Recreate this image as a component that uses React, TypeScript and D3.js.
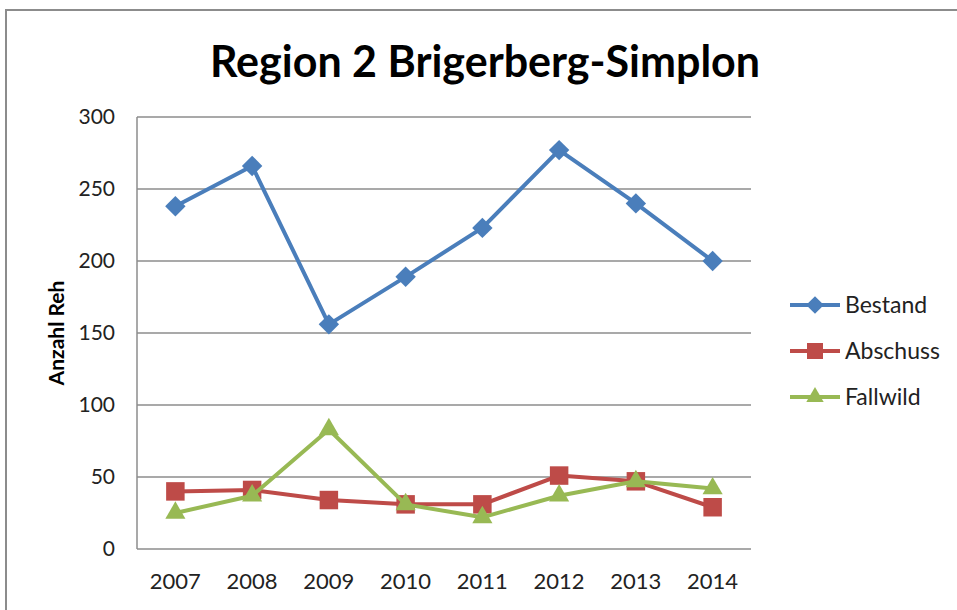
import React, { useEffect, useRef } from 'react';
import * as d3 from 'd3';

const years = ['2007', '2008', '2009', '2010', '2011', '2012', '2013', '2014'];
const bestand = [238, 266, 156, 189, 223, 277, 240, 200];
const abschuss = [40, 41, 34, 31, 31, 51, 47, 29];
const fallwild = [25, 37, 83, 31, 22, 37, 47, 42];
const yTicks = [0, 50, 100, 150, 200, 250, 300];

const series = [
    { name: 'Bestand', values: bestand, color: '#4A7EBB', marker: 'diamond' },
    { name: 'Abschuss', values: abschuss, color: '#BE4B48', marker: 'square' },
    { name: 'Fallwild', values: fallwild, color: '#98B954', marker: 'triangle' },
];

const font = 'Lato, "Open Sans", sans-serif';

const App = () => {
    const svgRef = useRef<SVGSVGElement>(null);
    const width = 957;
    const height = 610;

    useEffect(() => {
        const svg = d3.select(svgRef.current);
        svg.selectAll('*').remove();

        const plot = { left: 137, top: 117, right: 751, bottom: 549 };

        // outer chart frame
        svg.append('rect')
            .attr('x', 6)
            .attr('y', 10)
            .attr('width', 980)
            .attr('height', 640)
            .attr('fill', 'white')
            .attr('stroke', '#8c8c8c')
            .attr('stroke-width', 2);

        const xScale = d3.scaleBand()
            .domain(years)
            .range([plot.left, plot.right]);

        const yScale = d3.scaleLinear()
            .domain([0, 300])
            .range([plot.bottom, plot.top]);

        // gridlines
        svg.append('g')
            .selectAll('line')
            .data(yTicks.filter(d => d > 0))
            .enter()
            .append('line')
            .attr('x1', plot.left)
            .attr('x2', plot.right)
            .attr('y1', d => yScale(d))
            .attr('y2', d => yScale(d))
            .attr('stroke', '#8c8c8c')
            .attr('stroke-width', 1.5);

        // axis lines
        svg.append('line')
            .attr('x1', plot.left).attr('x2', plot.left)
            .attr('y1', plot.top).attr('y2', plot.bottom)
            .attr('stroke', '#8c8c8c').attr('stroke-width', 1.5);
        svg.append('line')
            .attr('x1', plot.left).attr('x2', plot.right)
            .attr('y1', plot.bottom).attr('y2', plot.bottom)
            .attr('stroke', '#8c8c8c').attr('stroke-width', 1.5);

        // y tick labels
        svg.append('g')
            .selectAll('text')
            .data(yTicks)
            .enter()
            .append('text')
            .attr('x', 115)
            .attr('y', d => yScale(d))
            .attr('dy', '0.35em')
            .attr('text-anchor', 'end')
            .style('font-family', font)
            .style('font-size', '21px')
            .style('fill', '#222')
            .text(d => d);

        // x tick labels
        svg.append('g')
            .selectAll('text')
            .data(years)
            .enter()
            .append('text')
            .attr('x', d => xScale(d)! + xScale.bandwidth() / 2)
            .attr('y', 589)
            .attr('text-anchor', 'middle')
            .style('font-family', font)
            .style('font-size', '22px')
            .style('fill', '#222')
            .text(d => d);

        // y axis title
        svg.append('text')
            .attr('transform', 'rotate(-90)')
            .attr('x', -333)
            .attr('y', 64)
            .attr('text-anchor', 'middle')
            .style('font-family', font)
            .style('font-size', '21px')
            .style('font-weight', 'bold')
            .text('Anzahl Reh');

        // title
        svg.append('text')
            .attr('x', 485)
            .attr('y', 77)
            .attr('text-anchor', 'middle')
            .style('font-family', font)
            .style('font-size', '43px')
            .style('font-weight', 'bold')
            .text('Region 2 Brigerberg-Simplon');

        const markerPath = (type: string, size: number) => {
            if (type === 'diamond') return d3.symbol(d3.symbolDiamond2, size * size * 0.55)();
            if (type === 'square') return d3.symbol(d3.symbolSquare2, size * size * 0.9)();
            return d3.symbol(d3.symbolTriangle2, size * size * 0.6)();
        };

        const line = d3.line<number>()
            .x((d, i) => xScale(years[i])! + xScale.bandwidth() / 2)
            .y(d => yScale(d));

        series.forEach(s => {
            const g = svg.append('g');
            g.append('path')
                .datum(s.values)
                .attr('d', line)
                .attr('fill', 'none')
                .attr('stroke', s.color)
                .attr('stroke-width', 4)
                .attr('stroke-linejoin', 'round');

            g.selectAll('.marker')
                .data(s.values)
                .enter()
                .append('path')
                .attr('class', 'marker')
                .attr('transform', (d, i) => `translate(${xScale(years[i])! + xScale.bandwidth() / 2},${yScale(d)})`)
                .attr('d', markerPath(s.marker, 22))
                .attr('fill', s.color);
        });

        // legend
        const legend = svg.append('g');
        series.forEach((s, i) => {
            const y = 305 + i * 46;
            legend.append('line')
                .attr('x1', 790).attr('x2', 840)
                .attr('y1', y).attr('y2', y)
                .attr('stroke', s.color)
                .attr('stroke-width', 4);
            legend.append('path')
                .attr('transform', `translate(815,${y})`)
                .attr('d', markerPath(s.marker, 19))
                .attr('fill', s.color);
            legend.append('text')
                .attr('x', 845)
                .attr('y', y)
                .attr('dy', '0.35em')
                .style('font-family', font)
                .style('font-size', '23px')
                .style('fill', '#222')
                .text(s.name);
        });
    }, []);

    return (
        <svg ref={svgRef} width={width} height={height}
            style={{ position: 'absolute', left: 0, top: 0, display: 'block' }}></svg>
    );
};

export default App;
